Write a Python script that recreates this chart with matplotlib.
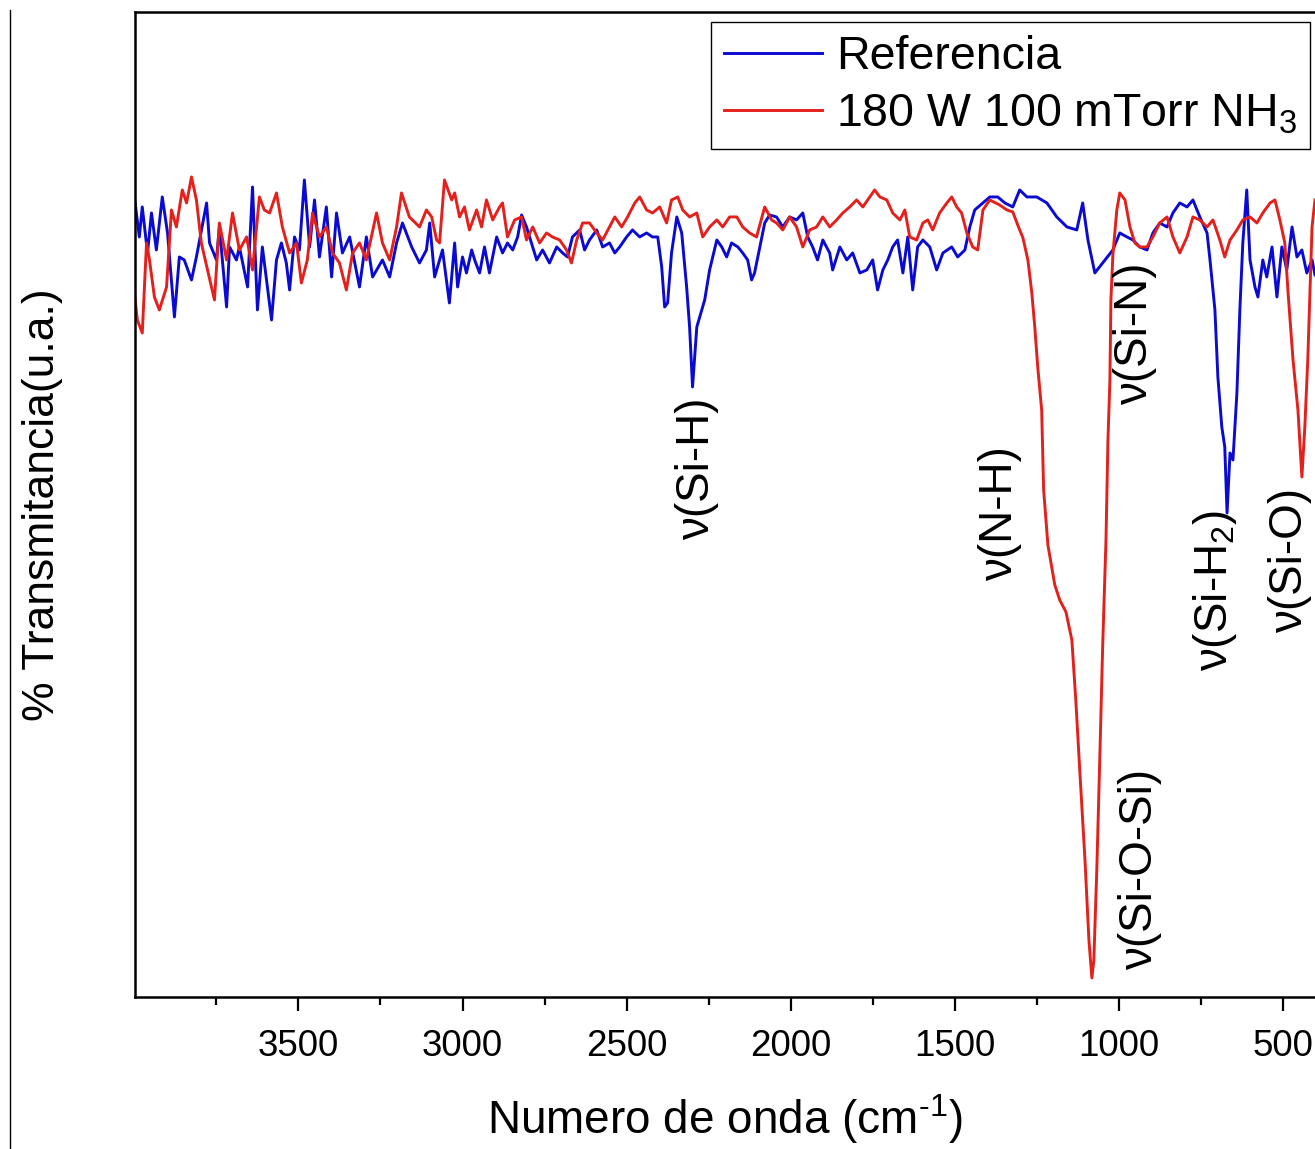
import matplotlib
matplotlib.use("Agg")
import matplotlib.pyplot as plt
from matplotlib.lines import Line2D
from matplotlib.ticker import FixedLocator

plt.rcParams['font.family'] = ['Liberation Sans', 'DejaVu Sans']
plt.rcParams['mathtext.fontset'] = 'custom'
plt.rcParams['mathtext.rm'] = 'Liberation Sans'
plt.rcParams['mathtext.it'] = 'Liberation Sans:italic'

# --- Data (wavenumber cm-1, transmittance a.u.) ---
ref_wn = [4000, 3985, 3976, 3960, 3948, 3933, 3915, 3899, 3878, 3863, 3848, 3826, 3811, 3780,
          3771, 3750, 3741, 3719, 3710, 3689, 3680, 3655, 3640, 3625, 3610, 3582, 3567, 3552,
          3537, 3527, 3512, 3497, 3482, 3466, 3451, 3436, 3415, 3399, 3384, 3366, 3344, 3314,
          3293, 3274, 3244, 3222, 3201, 3183, 3155, 3131, 3110, 3100, 3085, 3061, 3040, 3024,
          3015, 3000, 2988, 2972, 2963, 2948, 2933, 2918, 2896, 2878, 2863, 2847, 2832, 2820,
          2805, 2790, 2774, 2756, 2735, 2713, 2695, 2680, 2665, 2643, 2628, 2613, 2591, 2573,
          2552, 2536, 2521, 2500, 2482, 2460, 2439, 2421, 2405, 2393, 2384, 2375, 2363, 2347,
          2332, 2317, 2308, 2299, 2286, 2277, 2262, 2247, 2225, 2210, 2195, 2180, 2161, 2146,
          2131, 2119, 2110, 2094, 2079, 2064, 2043, 2024, 2003, 1982, 1963, 1948, 1933, 1918,
          1902, 1881, 1872, 1850, 1829, 1811, 1789, 1768, 1750, 1735, 1719, 1704, 1689, 1674,
          1658, 1643, 1628, 1613, 1597, 1576, 1555, 1536, 1509, 1491, 1469, 1454, 1439, 1414,
          1393, 1369, 1347, 1323, 1302, 1280, 1250, 1219, 1189, 1158, 1128, 1110, 1094, 1073,
          1049, 1018, 997, 975, 957, 936, 914, 896, 875, 853, 835, 814, 792, 774,
          753, 731, 722, 707, 698, 686, 677, 670, 661, 652, 640, 631, 622, 610,
          600, 585, 576, 561, 549, 533, 518, 503, 488, 472, 457, 442, 427, 411, 402]
ref_t = [80.3, 76.3, 79.3, 74.7, 78.7, 75.0, 80.3, 76.7, 68.3, 74.3, 74.0, 72.0, 74.3, 79.7,
         75.7, 74.0, 77.3, 69.3, 75.3, 74.0, 75.3, 71.3, 81.3, 69.0, 75.3, 68.0, 74.0, 75.7,
         73.7, 71.0, 76.3, 75.0, 82.0, 75.3, 80.0, 74.3, 79.3, 72.3, 78.7, 74.7, 76.3, 71.3,
         76.3, 72.3, 74.0, 72.3, 75.7, 77.7, 75.3, 73.7, 75.0, 77.7, 72.3, 75.0, 69.7, 75.7,
         71.3, 74.3, 72.7, 75.0, 74.0, 72.7, 75.3, 72.7, 76.3, 74.7, 75.7, 75.0, 76.3, 78.5,
         77.3, 75.7, 74.0, 75.0, 73.7, 75.3, 74.7, 74.3, 76.3, 77.0, 75.0, 76.0, 77.0, 75.3,
         75.7, 74.7, 75.3, 76.3, 77.0, 76.3, 76.7, 76.3, 76.3, 73.3, 69.3, 69.7, 74.7, 78.3,
         76.7, 71.3, 67.3, 61.3, 67.3, 68.3, 70.0, 73.0, 76.0, 75.3, 74.3, 75.7, 75.3, 74.7,
         74.0, 72.0, 72.7, 75.3, 77.7, 78.5, 78.3, 77.3, 78.3, 78.0, 78.7, 76.3, 75.3, 74.0,
         76.0, 74.7, 73.0, 75.3, 74.0, 74.7, 72.7, 73.0, 74.0, 71.0, 73.0, 74.0, 75.3, 76.0,
         72.7, 76.3, 71.0, 75.3, 76.0, 75.3, 73.0, 74.7, 75.3, 74.3, 75.0, 77.3, 79.0, 79.7,
         80.3, 80.3, 79.7, 79.3, 81.0, 80.3, 80.3, 79.7, 78.3, 77.3, 77.0, 79.7, 76.0, 72.7,
         73.7, 75.0, 76.7, 76.3, 76.0, 75.3, 75.0, 76.7, 77.7, 77.3, 78.7, 79.7, 79.3, 80.0,
         78.3, 76.7, 74.0, 69.0, 62.3, 57.3, 55.3, 48.7, 54.7, 54.0, 60.7, 69.0, 75.7, 81.0,
         74.0, 71.3, 70.3, 74.0, 72.3, 75.3, 70.3, 75.3, 73.0, 77.3, 74.3, 75.0, 72.7, 74.0, 72.5]

nh3_wn = [4000, 3991, 3976, 3963, 3954, 3939, 3924, 3902, 3887, 3872, 3854, 3841, 3826, 3811,
          3796, 3777, 3756, 3741, 3719, 3701, 3680, 3658, 3640, 3619, 3604, 3588, 3567, 3549,
          3527, 3506, 3491, 3473, 3457, 3436, 3415, 3396, 3375, 3354, 3335, 3314, 3293, 3262,
          3244, 3222, 3201, 3186, 3162, 3131, 3110, 3094, 3079, 3070, 3055, 3033, 3024, 3009,
          2994, 2979, 2957, 2942, 2927, 2908, 2887, 2878, 2863, 2841, 2820, 2805, 2786, 2765,
          2744, 2726, 2704, 2683, 2668, 2652, 2634, 2613, 2591, 2573, 2552, 2536, 2515, 2497,
          2475, 2460, 2439, 2421, 2399, 2378, 2363, 2344, 2329, 2308, 2286, 2268, 2247, 2225,
          2207, 2186, 2164, 2146, 2125, 2104, 2079, 2058, 2043, 2024, 2003, 1982, 1963, 1942,
          1921, 1902, 1881, 1860, 1841, 1820, 1799, 1780, 1759, 1744, 1728, 1707, 1689, 1667,
          1652, 1637, 1616, 1597, 1582, 1567, 1546, 1524, 1509, 1494, 1479, 1463, 1445, 1430,
          1414, 1393, 1363, 1341, 1323, 1308, 1292, 1277, 1265, 1256, 1247, 1235, 1229, 1216,
          1195, 1180, 1161, 1143, 1131, 1119, 1103, 1091, 1082, 1076, 1067, 1058, 1049, 1039,
          1033, 1027, 1024, 1018, 1006, 997, 981, 966, 951, 936, 914, 896, 875, 853,
          835, 814, 792, 774, 753, 731, 713, 692, 677, 661, 640, 622, 600, 579,
          561, 539, 524, 509, 494, 484, 469, 454, 442, 433, 424, 411, 402]
nh3_t = [70.7, 68.0, 66.7, 75.7, 74.0, 70.3, 69.0, 71.3, 79.0, 77.3, 81.0, 79.7, 82.3, 80.0,
         75.7, 73.0, 70.0, 77.7, 74.0, 78.7, 75.0, 76.3, 73.0, 80.3, 79.0, 78.7, 80.7, 77.3,
         74.7, 75.7, 71.7, 74.0, 78.7, 76.3, 77.3, 74.7, 73.7, 71.0, 74.7, 75.7, 74.0, 78.7,
         75.7, 74.0, 77.3, 80.7, 78.3, 77.3, 79.0, 78.3, 76.0, 75.7, 82.0, 80.0, 80.7, 78.3,
         79.3, 77.0, 79.0, 77.3, 80.0, 78.0, 79.3, 79.7, 76.3, 78.0, 78.3, 76.0, 77.3, 75.7,
         76.7, 76.3, 76.0, 75.0, 73.7, 76.0, 77.7, 77.7, 76.7, 76.0, 77.3, 78.3, 77.3, 78.3,
         79.7, 80.3, 79.0, 78.7, 79.3, 77.7, 80.0, 80.3, 79.0, 78.3, 78.7, 76.3, 77.3, 78.0,
         77.3, 78.3, 78.3, 77.3, 76.7, 76.3, 79.3, 78.0, 77.7, 77.0, 78.3, 77.3, 75.3, 77.0,
         77.3, 78.3, 77.3, 78.0, 78.7, 79.3, 80.0, 79.3, 80.3, 81.0, 80.3, 80.0, 78.7, 78.0,
         79.0, 76.3, 76.0, 77.7, 78.0, 77.0, 78.7, 79.7, 80.3, 79.3, 78.7, 76.7, 75.3, 75.0,
         79.0, 80.0, 79.5, 79.0, 78.8, 77.5, 76.2, 74.0, 70.7, 67.3, 63.3, 59.0, 51.0, 45.5,
         41.5, 40.0, 38.8, 36.0, 30.0, 23.0, 14.0, 6.0, 2.2, 4.0, 13.0, 24.0, 35.5, 46.0,
         56.0, 62.0, 70.0, 74.5, 79.0, 80.7, 80.0, 77.3, 75.7, 75.3, 75.3, 76.3, 77.7, 78.3,
         76.3, 74.7, 76.3, 78.3, 78.0, 77.3, 78.0, 76.0, 74.3, 76.0, 77.0, 78.0, 78.3, 77.7,
         78.7, 79.7, 80.0, 78.0, 75.7, 70.7, 64.0, 59.0, 52.3, 57.3, 64.0, 77.3, 80.0]

# band labels: (text, wavenumber, transmittance of label centre)
band_labels = ["ν(Si-H)", "ν(N-H)", "ν(Si-N)", "ν(Si-O-Si)", "ν(Si-H$_2$)", "ν(Si-O)"]
band_wn = [2286, 1363, 951, 936, 707, 479]
band_t = [53.1, 48.6, 66.6, 13.1, 41.0, 44.0]

series_labels = ["Referencia", "180 W 100 mTorr NH$_3$"]

# --- Figure ---
fig = plt.figure(figsize=(13.15, 11.49), dpi=100)
ax = fig.add_axes([0.1027, 0.1323, 0.8973, 0.8573])

ax.plot(ref_wn, ref_t, color="#0a0ad2", lw=2.1, label=series_labels[0])
ax.plot(nh3_wn, nh3_t, color="#e3201c", lw=2.1, label=series_labels[1])

for txt, w, t in zip(band_labels, band_wn, band_t):
	ax.text(w, t, txt, rotation=90, ha="center", va="center", fontsize=33)

ax.set_xlim(3998, 402)
ax.set_ylim(0.3, 98.8)

ax.xaxis.set_major_locator(FixedLocator([3500, 3000, 2500, 2000, 1500, 1000, 500]))
ax.xaxis.set_minor_locator(FixedLocator([3750, 3250, 2750, 2250, 1750, 1250, 750]))
ax.tick_params(axis="x", which="major", direction="out", length=10, width=1.6,
               labelsize=26.5, pad=13)
ax.tick_params(axis="x", which="minor", direction="out", length=6, width=1.6)
ax.set_yticks([])
ax.spines["right"].set_visible(False)
for s in ("left", "top", "bottom"):
	ax.spines[s].set_linewidth(1.8)

ax.set_xlabel(r"Numero de onda (cm$^{\text{-1}}$)", fontsize=33, labelpad=20)
ax.set_ylabel("% Transmitancia(u.a.)", fontsize=32, labelpad=52)

leg = ax.legend(loc="upper right", bbox_to_anchor=(1310 / 1315, 1 - 22 / 1149),
                bbox_transform=fig.transFigure, borderaxespad=0, fontsize=33.5,
                handlelength=2.1, handletextpad=0.3, labelspacing=0.28,
                borderpad=0.28, fancybox=False, framealpha=1, edgecolor="black")
leg.get_frame().set_linewidth(1.0)

# thin vertical line at the left edge of the picture
fig.add_artist(Line2D([10 / 1315, 10 / 1315], [0, 1 - 10 / 1149],
                      transform=fig.transFigure, color="black", lw=1.0))

fig.savefig("out.png", dpi=100)
